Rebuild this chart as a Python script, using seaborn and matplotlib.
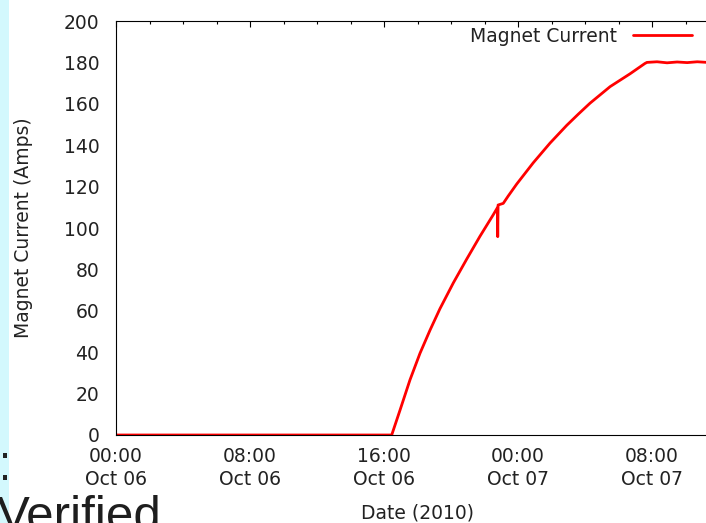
import matplotlib
matplotlib.use("Agg")
import matplotlib.pyplot as plt
import matplotlib.dates as mdates
from matplotlib.patches import Rectangle
import pandas as pd
import seaborn as sns

# Magnet ramp: hours since 2010-10-06 00:00 and measured current (A)
hours = [0.0, 4.0, 8.0, 12.0, 16.46,
         16.96, 17.55, 18.15, 18.75, 19.34, 20.14, 20.94, 21.73, 22.53, 22.77,
         22.79, 22.81, 23.12,
         23.42, 23.92, 24.91, 25.91, 26.91, 27.60, 28.30, 29.50, 30.69, 31.58,
         31.70, 32.3, 32.9, 33.5, 34.1, 34.7, 35.3, 36.0]
current = [0.0, 0.0, 0.0, 0.0, 0.0,
           12.1, 26.6, 39.5, 50.7, 61.0, 73.5, 85.0, 96.0, 106.5, 109.8,
           95.8, 111.1, 111.9,
           115.5, 121.2, 131.5, 141.0, 149.6, 155.0, 160.3, 168.3, 174.5, 179.5,
           180.0, 180.3, 179.8, 180.2, 179.9, 180.3, 180.0, 180.1]

x_label = "Date (2010)"
y_label = "Magnet Current (Amps)"
series_name = "Magnet Current"
y_ticks = list(range(0, 201, 20))

start = pd.Timestamp("2010-10-06 00:00")
df = pd.DataFrame({
    "time": start + pd.to_timedelta(hours, unit="h"),
    "current": current,
})

sns.set_theme(style="white")
plt.rcParams["font.family"] = ["DejaVu Sans"]
plt.rcParams["axes.edgecolor"] = "black"
plt.rcParams["axes.linewidth"] = 0.8

fs = 13.5
fig = plt.figure(figsize=(7.06, 5.23), dpi=100)
fig.patch.set_facecolor("white")

# slide background strip, bullets and heading fragment
fig.patches.append(Rectangle((0, 0), 9 / 706, 1, transform=fig.transFigure,
                             facecolor="#d3f8fd", edgecolor="none", zorder=0))
for yb in (455.5, 477.5):
    fig.patches.append(Rectangle((3 / 706, 1 - (yb + 2.5) / 523), 4 / 706, 5 / 523,
                                 transform=fig.transFigure, facecolor="#222222",
                                 edgecolor="none", zorder=1))
fig.text(-3 / 706, 1 - 530 / 523, "Verified", fontsize=35.5, family=["Liberation Sans"],
         color="#1e1e1e", va="baseline", ha="left")

ax = fig.add_axes([116 / 706, 88 / 523, 603 / 706, 414 / 523])
sns.lineplot(data=df, x="time", y="current", ax=ax, color="#ff0000",
             linewidth=2.0, label=series_name, estimator=None, sort=False)

ax.set_xlim(start, start + pd.Timedelta(hours=36))
ax.set_ylim(0, 200)
ax.set_yticks(y_ticks)

ax.xaxis.set_major_locator(mdates.HourLocator(byhour=[0, 8, 16]))
ax.xaxis.set_minor_locator(mdates.HourLocator(byhour=list(range(0, 24, 2))))
ax.xaxis.set_major_formatter(mdates.DateFormatter("%H:%M\n%b %d"))

ax.tick_params(which="both", direction="in", top=True, right=True,
               colors="black", width=0.8)
ax.tick_params(which="major", length=4.5, labelsize=fs)
ax.tick_params(which="minor", length=2.5)
ax.tick_params(axis="x", which="major", pad=9)
ax.tick_params(axis="y", which="major", pad=12)
for lbl in ax.get_xticklabels():
    lbl.set_linespacing(1.25)
for lbl in ax.get_xticklabels() + ax.get_yticklabels():
    lbl.set_color("#222222")

ax.set_xlabel(x_label, fontsize=fs, color="#222222", labelpad=10)
ax.set_ylabel(y_label, fontsize=fs, color="#222222", labelpad=22)

ax.legend(loc="center right", bbox_to_anchor=(692 / 706, 1 - 36.5 / 523),
          bbox_transform=fig.transFigure, frameon=False, markerfirst=False,
          handlelength=3.15, handletextpad=0.85, borderpad=0, borderaxespad=0,
          fontsize=fs, labelcolor="#222222")

fig.savefig("out.png", dpi=100)
